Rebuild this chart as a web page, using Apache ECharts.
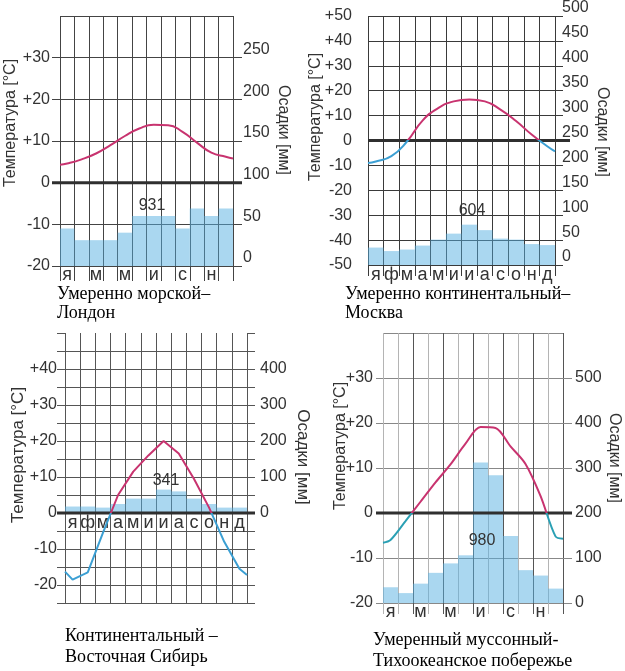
<!DOCTYPE html>
<html><head><meta charset="utf-8">
<script src="https://cdn.jsdelivr.net/npm/echarts@6/dist/echarts.min.js"></script>
<style>html,body{margin:0;padding:0;background:#fff}#c{width:625px;height:671px}</style>
</head><body><div id="c"></div>
<script>
// ---------- data ----------
const months = ['я','ф','м','а','м','и','и','а','с','о','н','д'];

const londonPrecip = [45, 31, 31, 31, 40, 60, 60, 60, 45, 69, 60, 69];
const londonTemp   = [4.6, 5.6, 7.0, 9.0, 11.2, 13.0, 13.9, 13.8, 12.2, 9.6, 7.2, 6.2];
const londonTempEdges = [4.3, 5.8];
const londonTotal = '931';

const moscowPrecip = [35, 28, 31, 39, 51, 63, 81, 70, 53, 51, 42, 40];
const moscowTemp   = [-8.4, -6.3, -0.4, 8.0, 13.0, 15.7, 16.5, 15.7, 12.4, 7.8, 2.4, -2.3];
const moscowTempEdges = [-9.0, -4.4];
const moscowTotal = '604';

const siberiaPrecip = [18, 18, 15, 25, 40, 40, 65, 60, 40, 25, 15, 15];
const siberiaTemp   = [-18.5, -16.5, -5.5, 5.0, 11.5, 16.0, 20.0, 16.5, 9.5, 1.5, -8.0, -15.5];
const siberiaTempEdges = [-16.3, -17.2];
const siberiaTotal = '341';

const pacificPrecip = [35, 22, 43, 67, 88, 106, 312, 284, 149, 73, 61, 32];
const pacificTemp   = [-6.0, -1.8, 2.5, 6.8, 10.8, 15.4, 19.1, 18.9, 14.8, 10.9, 3.8, -5.2];
const pacificTempEdges = [-6.6, -5.7];
const pacificTotal = '980';

const captions = [
  ['Умеренно морской–', 'Лондон'],
  ['Умеренно континентальный–', 'Москва'],
  ['Континентальный –', 'Восточная Сибирь'],
  ['Умеренный муссонный-', 'Тихоокеанское побережье']
];
const tempTitle = 'Температура [°C]';
const precTitle = 'Осадки [мм]';

// ---------- helpers ----------
function lineData(temp, edges) {
  const d = [[0, edges[0]]];
  temp.forEach((t, i) => d.push([i + 0.5, t]));
  d.push([12, edges[1]]);
  return d;
}
const fmtT = v => v > 0 ? '+' + v : String(v);
const SANS = 'Liberation Sans';
const LBL = {fontFamily: SANS, fontSize: 16, color: '#333'};
const MON = {fontFamily: SANS, fontSize: 18, color: '#333'};
const BAR = 'rgba(85,175,225,0.5)';

const grids = [
  {left: 60, top: 16, width: 173, height: 250},
  {left: 368, top: 16, width: 187, height: 249},
  {left: 65, top: 333, width: 182, height: 270},
  {left: 383, top: 333, width: 180, height: 270}
];

function catAxis(g, color, opts) {
  return Object.assign({
    gridIndex: g, type: 'category', data: months, position: 'bottom',
    axisLine: {show: false, onZero: false},
    axisTick: {show: true, interval: 0, length: 14, lineStyle: {color}},
    axisLabel: Object.assign({interval: 0, margin: 0}, MON),
    splitLine: {show: true, interval: 0, lineStyle: {color, width: 1}}
  }, opts || {});
}
function valX(g) {
  return {gridIndex: g, type: 'value', min: 0, max: 12, show: false, position: 'top',
    axisLine: {onZero: false}, splitLine: {show: false}};
}

const xAxis = [
  catAxis(0, '#444', {axisLabel: Object.assign({interval: 1, margin: 0}, MON), axisTick: {show: true, interval: 0, length: 15, lineStyle: {color: '#444'}}}),
  valX(0),
  catAxis(1, '#3a3a3a', {axisLabel: Object.assign({interval: 0, margin: 1}, MON), axisTick: {show: true, interval: 0, length: 11, lineStyle: {color: '#3a3a3a'}}}),
  valX(1),
  // Siberia: month labels sit just under the 0 °C line (label offset back up from the bottom edge)
  catAxis(2, '#555', {axisTick: {show: false}, axisLabel: Object.assign({interval: 0, margin: -89}, MON)}),
  valX(2),
  catAxis(3, '#b4b4b4', {axisLabel: Object.assign({interval: 1, margin: 0}, MON), axisTick: {show: true, interval: 0, length: 11, lineStyle: {color: '#b4b4b4'}}}),
  valX(3),
  {gridIndex: 3, type: 'category', data: months, position: 'bottom',
    axisLine: {show: false, onZero: false},
    axisLabel: {show: false},
    axisTick: {show: true, length: 11, interval: i => i % 2 === 0 && i > 0, lineStyle: {color: '#555'}},
    splitLine: {show: true, interval: i => i % 2 === 0 && i > 0, lineStyle: {color: '#555'}}}
];

const yAxis = [
  // London
  {gridIndex: 0, type: 'value', min: -20, max: 40, interval: 10, position: 'left',
    axisLine: {show: false, onZero: false}, axisTick: {show: true, length: 8, lineStyle: {color: '#444'}},
    axisLabel: Object.assign({margin: 10, showMaxLabel: false, formatter: fmtT}, LBL),
    splitLine: {show: true, lineStyle: {color: '#444'}}},
  {gridIndex: 0, type: 'value', min: 0, max: 300, interval: 50, position: 'right',
    axisLine: {show: false, onZero: false}, axisTick: {show: true, length: 9, lineStyle: {color: '#444'}},
    axisLabel: Object.assign({margin: 10, showMaxLabel: false, verticalAlign: 'bottom'}, LBL),
    splitLine: {show: false}},
  // Moscow
  {gridIndex: 1, type: 'value', min: -50, max: 50, interval: 10, position: 'left',
    axisLine: {show: false, onZero: false}, axisTick: {show: false},
    axisLabel: Object.assign({margin: 16, formatter: fmtT}, LBL),
    splitLine: {show: true, lineStyle: {color: '#3a3a3a'}}},
  {gridIndex: 1, type: 'value', min: 0, max: 500, interval: 50, position: 'right',
    axisLine: {show: false, onZero: false}, axisTick: {show: true, length: 8, lineStyle: {color: '#3a3a3a'}},
    axisLabel: Object.assign({margin: 7, verticalAlign: 'bottom'}, LBL),
    splitLine: {show: false}},
  // Siberia
  {gridIndex: 2, type: 'value', min: -25, max: 50, interval: 5, position: 'left',
    axisLine: {show: false, onZero: false}, axisTick: {show: true, length: 8, lineStyle: {color: '#555'}},
    axisLabel: Object.assign({margin: 8, formatter: v => (v % 10 === 0 && v >= -20 && v <= 40) ? fmtT(v) : ''}, LBL),
    splitLine: {show: true, showMaxLine: false, lineStyle: {color: '#555'}}},
  {gridIndex: 2, type: 'value', min: -250, max: 500, interval: 50, position: 'right',
    axisLine: {show: false, onZero: false}, axisTick: {show: true, length: 8, lineStyle: {color: '#555'}},
    axisLabel: Object.assign({margin: 13, formatter: v => (v >= 0 && v <= 400 && v % 100 === 0) ? String(v) : ''}, LBL),
    splitLine: {show: false}},
  // Pacific
  {gridIndex: 3, type: 'value', min: -20, max: 40, interval: 10, position: 'left',
    axisLine: {show: false, onZero: false}, axisTick: {show: true, length: 7, lineStyle: {color: '#888'}},
    axisLabel: Object.assign({margin: 10, showMaxLabel: false, formatter: fmtT}, LBL),
    splitLine: {show: true, lineStyle: {color: '#888'}}},
  {gridIndex: 3, type: 'value', min: 0, max: 600, interval: 100, position: 'right',
    axisLine: {show: false, onZero: false}, axisTick: {show: true, length: 9, lineStyle: {color: '#888'}},
    axisLabel: Object.assign({margin: 12, showMaxLabel: false}, LBL),
    splitLine: {show: false}}
];

const precs = [londonPrecip, moscowPrecip, siberiaPrecip, pacificPrecip];
const temps = [lineData(londonTemp, londonTempEdges), lineData(moscowTemp, moscowTempEdges),
               lineData(siberiaTemp, siberiaTempEdges), lineData(pacificTemp, pacificTempEdges)];
const smooths = [0.5, 0.5, false, 0.3];

const series = [];
precs.forEach((p, i) => series.push({type: 'bar', xAxisIndex: 2 * i, yAxisIndex: 2 * i + 1, data: p,
  barWidth: '100%', itemStyle: {color: BAR}, z: 2, silent: true}));
temps.forEach((t, i) => series.push({type: 'line', xAxisIndex: 2 * i + 1, yAxisIndex: 2 * i, data: t,
  smooth: smooths[i], symbol: 'none', lineStyle: {width: 2}, z: 6, silent: true}));

const chart = echarts.init(document.getElementById('c'), null, {renderer: 'canvas'});
chart.setOption({
  animation: false,
  backgroundColor: '#fff',
  grid: grids,
  xAxis, yAxis, series,
  visualMap: [
    {type: 'piecewise', show: false, seriesIndex: [4, 5, 6], dimension: 1,
      pieces: [{gte: -100, lt: 0, color: '#3b9fd3'}, {gte: 0, lte: 100, color: '#c8336f'}]},
    {type: 'piecewise', show: false, seriesIndex: [7], dimension: 1,
      pieces: [{gte: -100, lt: 0, color: '#2aa0b4'}, {gte: 0, lte: 100, color: '#c8336f'}]}
  ]
});

// ---------- annotations ----------
const totals = [londonTotal, moscowTotal, siberiaTotal, pacificTotal];
const overhang = [[8, 9], [0, 15], [8, 8], [7, 9]];
const g = [];
for (let i = 0; i < 4; i++) {
  const y0 = chart.convertToPixel({yAxisIndex: 2 * i}, 0);
  const xl = chart.convertToPixel({xAxisIndex: 2 * i + 1}, 0);
  const xr = chart.convertToPixel({xAxisIndex: 2 * i + 1}, 12);
  g.push({type: 'line', shape: {x1: xl - overhang[i][0], y1: y0, x2: xr + overhang[i][1], y2: y0},
    style: {stroke: '#2f2f2f', lineWidth: 3}, z: 4, silent: true});
}
function txt(x, y, text, font, rot, align, fill) {
  return {type: 'text', x, y, rotation: rot || 0, z: 10, silent: true,
    style: {text, font, fill: fill || '#333', align: align || 'center', verticalAlign: 'middle'}};
}
const F16 = '16px "Liberation Sans"';
const F17 = '17px "Liberation Sans"';
const SERIF = '18px "Liberation Serif"';
g.push(txt(152, 206, totals[0], F16));
g.push(txt(472, 211, totals[1], F16));
g.push(txt(166, 481, totals[2], F16));
g.push(txt(482, 541, totals[3], F16));
g.push(txt(11, 123, tempTitle, F16, Math.PI / 2));
g.push(txt(283, 130, precTitle, F16, -Math.PI / 2));
g.push(txt(316, 117, tempTitle, F16, Math.PI / 2));
g.push(txt(602, 132, precTitle, F16, -Math.PI / 2));
g.push(txt(18, 455, tempTitle, F17, Math.PI / 2));
g.push(txt(303, 457, precTitle, F17, -Math.PI / 2));
g.push(txt(341, 446, tempTitle, F16, Math.PI / 2));
g.push(txt(614, 458, precTitle, F16, -Math.PI / 2));
const capPos = [[57, 294, 313], [345, 294, 313], [65, 636, 657], [373, 640, 661]];
captions.forEach((c, i) => {
  g.push(txt(capPos[i][0], capPos[i][1], c[0], SERIF, 0, 'left', '#000'));
  g.push(txt(capPos[i][0], capPos[i][2], c[1], SERIF, 0, 'left', '#000'));
});
chart.setOption({graphic: g});
</script>
</body></html>
